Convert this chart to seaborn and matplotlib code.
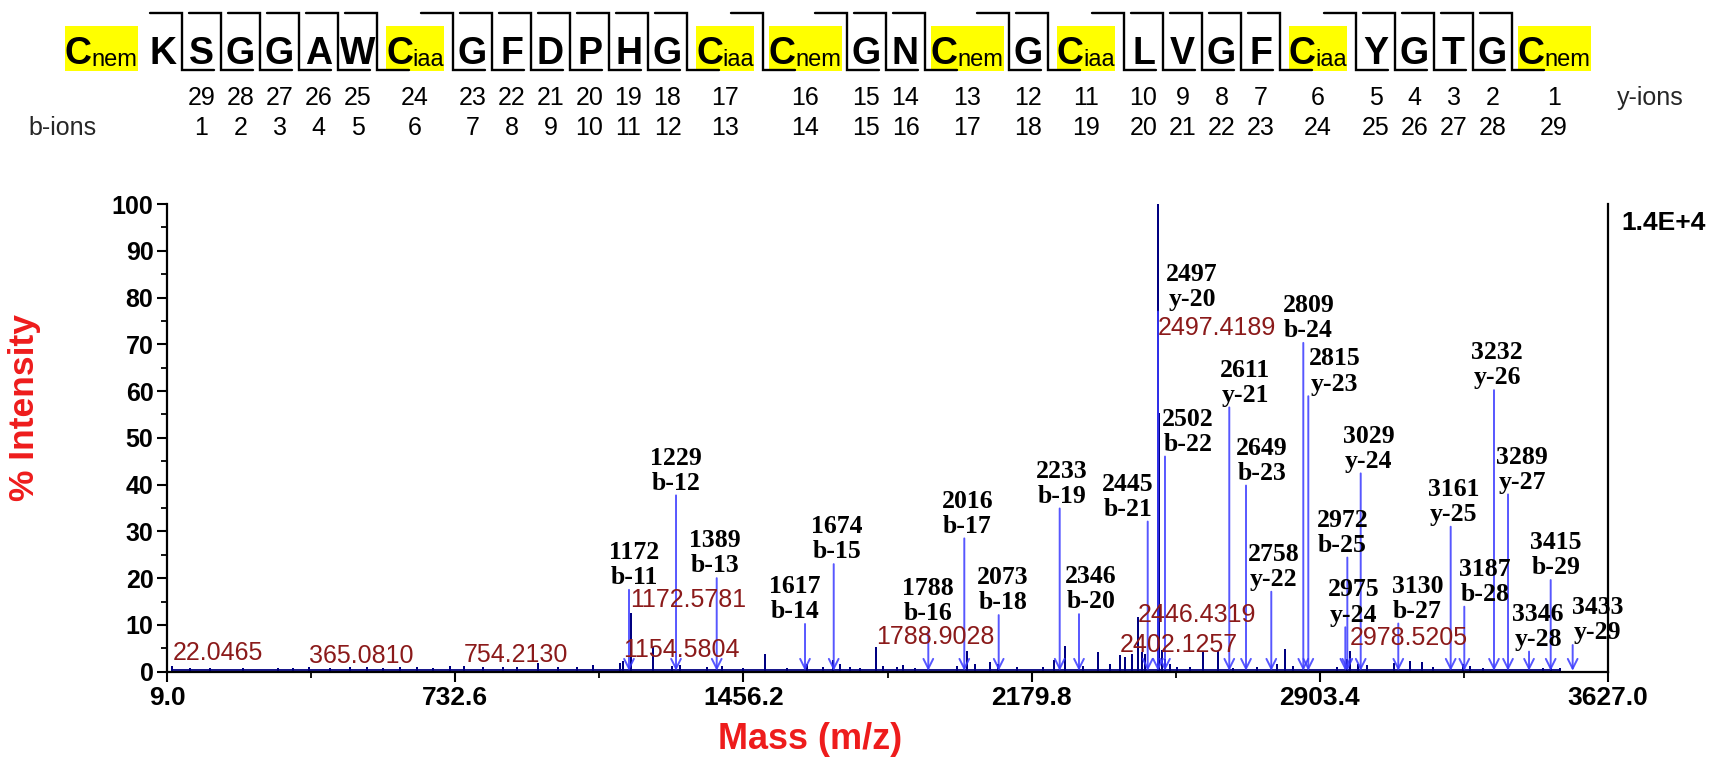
import numpy as np
import pandas as pd
import matplotlib
matplotlib.use("Agg")
import matplotlib.pyplot as plt
import seaborn as sns
from matplotlib.ticker import MultipleLocator, FixedLocator
from matplotlib.patches import Rectangle

# ---------------- data ----------------
residues = ['Cnem', 'K', 'S', 'G', 'G', 'A', 'W', 'Ciaa', 'G', 'F', 'D', 'P', 'H', 'G',
            'Ciaa', 'Cnem', 'G', 'N', 'Cnem', 'G', 'Ciaa', 'L', 'V', 'G', 'F', 'Ciaa',
            'Y', 'G', 'T', 'G', 'Cnem']
b_numbers = list(range(1, 30))
y_numbers = list(range(29, 0, -1))

peak_mz = [22.0465, 66, 116, 158, 199, 250, 287, 325, 365.0810, 418, 468, 510, 551, 594,
           635, 677, 719, 754.2130, 802, 852, 887, 940, 990, 1037, 1078, 1146, 1154.5804,
           1172.5781, 1230, 1276, 1297, 1364, 1402, 1455, 1510, 1565, 1615, 1656, 1680,
           1699, 1724, 1749, 1788.9028, 1807, 1841, 1857, 1887, 1992, 2017, 2038, 2075,
           2096, 2143, 2209, 2236, 2264, 2309, 2347, 2377, 2402.1257, 2415, 2431,
           2446.4319, 2456, 2466, 2497.4189, 2500.8, 2507, 2515, 2527, 2544, 2578, 2611,
           2649, 2687, 2745, 2796, 2816.5, 2837, 2946, 2971, 2978.5205, 3001, 3022, 3089,
           3131, 3160, 3189, 3264, 3281, 3315, 3365, 3465, 3485, 3508]
peak_int = [1.1, 0.5, 0.6, 0.4, 0.5, 0.4, 0.5, 0.6, 0.8, 0.6, 0.7, 0.8, 0.6, 0.7,
            0.8, 0.6, 0.9, 0.9, 0.7, 0.8, 0.7, 1.7, 0.8, 0.7, 1.3, 1.6, 2.0,
            12.3, 5.0, 1.0, 1.2, 0.8, 1.0, 0.6, 3.6, 0.5, 1.5, 0.8, 2.2,
            1.5, 0.8, 0.6, 5.1, 1.0, 0.7, 1.2, 0.5, 1.0, 4.3, 1.5, 1.8,
            1.5, 0.7, 0.8, 2.2, 5.3, 1.0, 4.0, 1.5, 3.3, 3.0, 3.5,
            11.5, 4.0, 3.5, 100.0, 55.0, 4.5, 2.5, 1.5, 0.8, 0.7, 4.0,
            4.3, 0.6, 0.7, 1.5, 4.6, 1.0, 0.8, 2.5, 4.3, 1.5, 1.2, 1.7,
            2.0, 1.8, 0.7, 1.5, 1.0, 0.5, 0.4, 0.6, 0.6, 0.6]
baseline_level = 0.35

ion_mass = ['1172', '1229', '1389', '1617', '1674', '1788', '2016', '2073', '2233', '2346',
            '2445', '2497', '2502', '2611', '2649', '2758', '2809', '2815', '2972', '2975',
            '3029', '3130', '3161', '3187', '3232', '3289', '3346', '3415', '3433']
ion_name = ['b-11', 'b-12', 'b-13', 'b-14', 'b-15', 'b-16', 'b-17', 'b-18', 'b-19', 'b-20',
            'b-21', 'y-20', 'b-22', 'y-21', 'b-23', 'y-22', 'b-24', 'y-23', 'b-25', 'y-24',
            'y-24', 'b-27', 'y-25', 'b-28', 'y-26', 'y-27', 'y-28', 'b-29', 'y-29']
ion_arrow_mz = [1168.7, 1286.8, 1389.0, 1610.8, 1682.9, 1920.5, 2010.9, 2097.3, 2250.5, 2299.0,
                2471.6, 2497.4, 2515.0, 2676.5, 2718.5, 2782.0, 2862.4, 2875.0, 2973.0, 2968.0,
                3006.6, 3101.0, 3232.6, 3266.8, 3341.4, 3376.6, 3429.4, 3483.8, 3539.0]
ion_arrow_top = [17.5, 37.7, 20.0, 10.2, 23.0, 8.6, 28.5, 12.1, 34.9, 12.3,
                 32.1, 77.0, 46.0, 56.5, 39.8, 17.1, 70.3, 58.9, 24.4, 9.5,
                 42.4, 10.3, 31.0, 13.9, 60.2, 37.9, 4.3, 19.6, 5.7]
# label shift (pixels) relative to the arrow top
ion_label_dx = [5, 0, -2, -10, 3, 0, 3, 4, 2, 12,
                -20, 34, 23, 16, 16, 2, 5, 26, -5, 8,
                8, 19, 3, 21, 3, 14, 9, 5, 25]
ion_label_dy = [0, 0, 0, 0, 0, 6, 0, 0, 0, 0,
                0, 0, 0, 0, 0, 0, 0, 0, 0, 0,
                0, 0, 0, 0, 0, 0, 0, 0, 0]

red_mz = [22.0465, 365.0810, 754.2130, 1154.5804, 1172.5781, 1788.9028, 2402.1257,
          2446.4319, 2497.4189, 2978.5205]
red_level = [2.5, 1.9, 2.1, 3.1, 13.8, 6.0, 4.2, 10.6, 72.0, 5.7]

xtick_values = [9.0, 732.6, 1456.2, 2179.8, 2903.4, 3627.0]
ytick_values = list(range(0, 101, 10))

# ---------------- style ----------------
sns.set_theme(style="ticks")
plt.rcParams['font.family'] = ['Liberation Sans', 'DejaVu Sans']

SEQ_FAM = ['Liberation Sans', 'DejaVu Sans']
SEQ_FS = 27
SUB_FS = 17
NUM_FS = 18
SERIF = ['Liberation Serif', 'DejaVu Serif']

NAVY = '#000080'
ARROW = '#3a3aff'
DARKRED = '#8b1a1a'
RED = '#ee1c1c'

W, H = 1709, 757
fig = plt.figure(figsize=(W / 100, H / 100), dpi=100)
fig.patch.set_facecolor('white')

# ---------------- header (sequence map) in pixel coordinates ----------------
hax = fig.add_axes([0, 0, 1, 1], zorder=0)
hax.set_xlim(0, W)
hax.set_ylim(H, 0)
hax.axis('off')

slot = {'Cnem': 84, 'Ciaa': 76}
box_w = {'Cnem': 73, 'Ciaa': 58}
widths = np.array([slot.get(r, 39) for r in residues], dtype=float)
lefts = 59 + np.concatenate([[0], np.cumsum(widths)[:-1]])
centers = lefts + widths / 2
BASE = 63.5

for r, c in zip(residues, centers):
    if r in box_w:
        bw = box_w[r]
        x0 = c - bw / 2
        hax.add_patch(Rectangle((x0, 26), bw, 44.5, facecolor='#ffff00', edgecolor='none'))
        hax.text(x0, BASE, 'C', ha='left', va='baseline', fontsize=SEQ_FS,
                 fontweight='bold', family=SEQ_FAM, color='black')
        hax.text(x0 + bw, BASE + 3, r[1:], ha='right', va='baseline', fontsize=SUB_FS,
                 family=SEQ_FAM, color='black')
    else:
        hax.text(c, BASE, r, ha='center', va='baseline', fontsize=SEQ_FS,
                 fontweight='bold', family=SEQ_FAM, color='black')

hook = 32
for j, (bn, yn) in enumerate(zip(b_numbers, y_numbers), start=1):
    xc = lefts[j + 1]
    hax.plot([xc - hook, xc, xc, xc + hook], [13.3, 13.3, 70, 70], color='black', lw=1.7,
             solid_joinstyle='miter')
    xn = centers[j + 1]
    hax.text(xn, 105, str(yn), ha='center', va='baseline', fontsize=NUM_FS,
             family=SEQ_FAM, color='black')
    hax.text(xn, 135, str(bn), ha='center', va='baseline', fontsize=NUM_FS,
             family=SEQ_FAM, color='black')

hax.text(1617, 105, 'y-ions', ha='left', va='baseline', fontsize=NUM_FS, family=SEQ_FAM)
hax.text(28, 135, 'b-ions', ha='left', va='baseline', fontsize=NUM_FS, family=SEQ_FAM)

# ---------------- spectrum ----------------
ax = fig.add_axes([167.3 / W, 1 - 671.7 / H, 1440.4 / W, 467.7 / H], zorder=2)
ax.set_facecolor('none')

rows = []
for m, i in zip(peak_mz, peak_int):
    rows += [(m, baseline_level), (m, i), (m, baseline_level)]
spec = pd.DataFrame(rows, columns=['mz', 'intensity'])
sns.lineplot(data=spec, x='mz', y='intensity', sort=False, estimator=None,
             color=NAVY, lw=1.3, ax=ax, zorder=2)

ax.set_xlim(xtick_values[0], xtick_values[-1])
ax.set_ylim(0, 100)

# arrows + ion labels
for mz, top, mass, name, dx, dy in zip(ion_arrow_mz, ion_arrow_top, ion_mass, ion_name,
                                       ion_label_dx, ion_label_dy):
    ax.annotate('', xy=(mz, 0.2), xytext=(mz, top),
                arrowprops=dict(arrowstyle='->,head_length=0.5,head_width=0.25',
                                color=ARROW, lw=1.4, alpha=0.85, shrinkA=0, shrinkB=0,
                                mutation_scale=14),
                zorder=3)
    ax.annotate(f'{mass}\n{name}', xy=(mz, top), xytext=(dx * 0.72, 0.5 + dy * 0.72),
                textcoords='offset points', ha='center', va='bottom',
                fontsize=18.5, fontweight='bold', family=SERIF, color='black',
                linespacing=1.12, zorder=4, annotation_clip=False)

for mz, lvl in zip(red_mz, red_level):
    ax.text(mz, lvl, f'{mz:.4f}', ha='left', va='baseline', fontsize=18,
            color=DARKRED, family=['Liberation Sans'], zorder=4)

# axes styling
for side in ['left', 'bottom', 'right']:
    ax.spines[side].set_visible(True)
    ax.spines[side].set_linewidth(1.6)
    ax.spines[side].set_color('black')
ax.spines['top'].set_visible(False)

ax.set_xticks(xtick_values)
ax.set_xticklabels([f'{v:.1f}' for v in xtick_values])
mids = [(a + b) / 2 for a, b in zip(xtick_values[:-1], xtick_values[1:])]
ax.xaxis.set_minor_locator(FixedLocator(mids))
ax.set_yticks(ytick_values)
ax.set_yticklabels([str(v) for v in ytick_values])
ax.yaxis.set_minor_locator(MultipleLocator(5))
ax.tick_params(axis='both', which='major', direction='out', length=7, width=1.5,
               color='black', labelcolor='black')
ax.tick_params(axis='both', which='minor', direction='out', length=4, width=1.3,
               color='black')
ax.tick_params(axis='x', labelsize=19, pad=3)
ax.tick_params(axis='y', labelsize=18, pad=3)
ax.tick_params(right=False, top=False, which='both')
for lab in ax.get_xticklabels() + ax.get_yticklabels():
    lab.set_fontweight('bold')

ax.set_xlabel('Mass (m/z)', fontsize=26, fontweight='bold', color=RED)
ax.xaxis.set_label_coords(0.446, -0.108)
ax.set_ylabel('% Intensity', fontsize=25.5, fontweight='bold', color=RED)
ax.yaxis.set_label_coords(-0.0877, 0.564)
ax.grid(False)

fig.text(1621.7 / W, 1 - 230 / H, '1.4E+4', ha='left', va='baseline', fontsize=19,
         fontweight='bold', color='black')

fig.savefig('out.png', dpi=100, facecolor='white')
